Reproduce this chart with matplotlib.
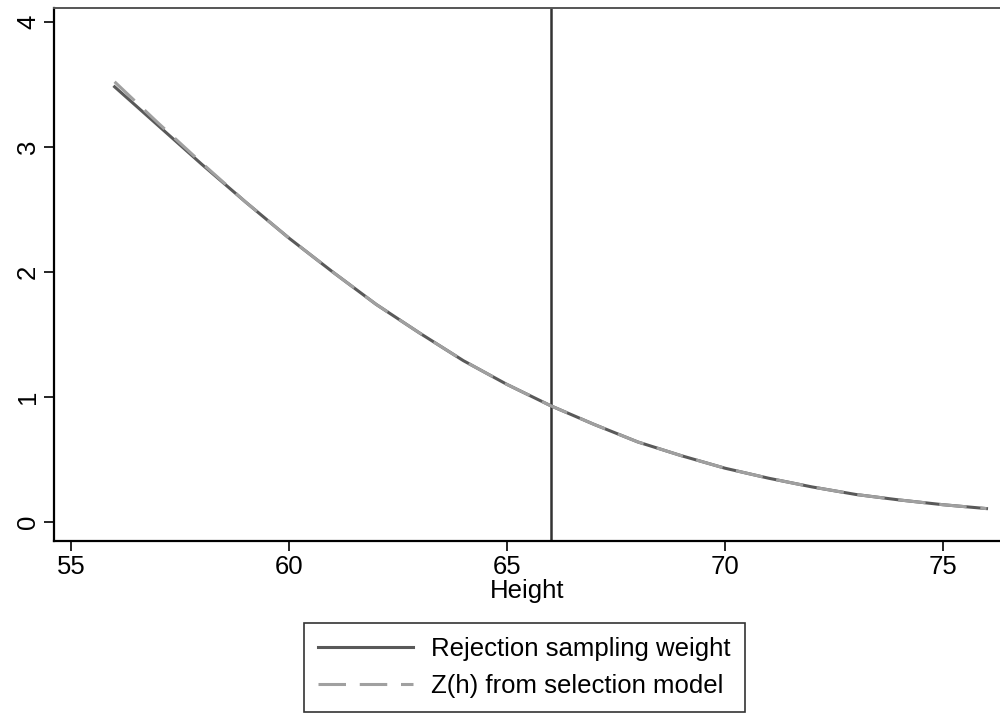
import matplotlib
matplotlib.use("Agg")
import matplotlib.pyplot as plt

plt.rcParams['font.family'] = ['Liberation Sans', 'DejaVu Sans']

# values
height = [56, 57, 58, 59, 60, 61, 62, 63, 64, 65, 66,
          67, 68, 69, 70, 71, 72, 73, 74, 75, 76]
rs_weight = [3.48, 3.17, 2.86, 2.56, 2.27, 2.00, 1.74, 1.51, 1.29, 1.10, 0.93,
             0.78, 0.64, 0.53, 0.43, 0.35, 0.28, 0.22, 0.176, 0.138, 0.107]
z_sel = [3.52, 3.19, 2.87, 2.56, 2.27, 2.00, 1.74, 1.51, 1.29, 1.10, 0.93,
         0.78, 0.64, 0.53, 0.43, 0.35, 0.28, 0.22, 0.176, 0.138, 0.107]
cutoff = 66
xticks = [55, 60, 65, 70, 75]
yticks = [0, 1, 2, 3, 4]

fig = plt.figure(figsize=(10, 7.15), dpi=100)
ax = fig.add_axes([0.054, 0.2434, 0.946, 0.7454])

ax.axvline(cutoff, color='#333333', lw=1.8)
ax.plot(height, rs_weight, color='#595959', lw=2.2,
        label='Rejection sampling weight')
ax.plot(height, z_sel, color='#a0a0a0', lw=2.2, dashes=(9, 4.5),
        label='Z(h) from selection model')

ax.set_xlim(54.61, 76.31)
ax.set_ylim(-0.152, 4.11)
ax.set_xticks(xticks)
ax.set_yticks(yticks)
ax.tick_params(labelsize=18.5, length=7, width=1.2, color='black', pad=3)
for lab in ax.get_yticklabels():
    lab.set_rotation(90)
    lab.set_va('center')
ax.set_xlabel('Height', fontsize=18.5, labelpad=0)

for s in ['left', 'bottom']:
    ax.spines[s].set_color('black')
    ax.spines[s].set_linewidth(1.6)
ax.spines['top'].set_color('#555555')
ax.spines['top'].set_linewidth(1.4)
ax.spines['right'].set_visible(False)

leg = fig.legend(loc='lower center', bbox_to_anchor=(0.5245, 0.0),
                 fontsize=18.5, frameon=True, fancybox=False,
                 edgecolor='black', handlelength=3.7, borderpad=0.55,
                 labelspacing=0.5, handletextpad=0.7, borderaxespad=0.1)
leg.get_frame().set_linewidth(1.2)

fig.savefig('out.png', dpi=100)
